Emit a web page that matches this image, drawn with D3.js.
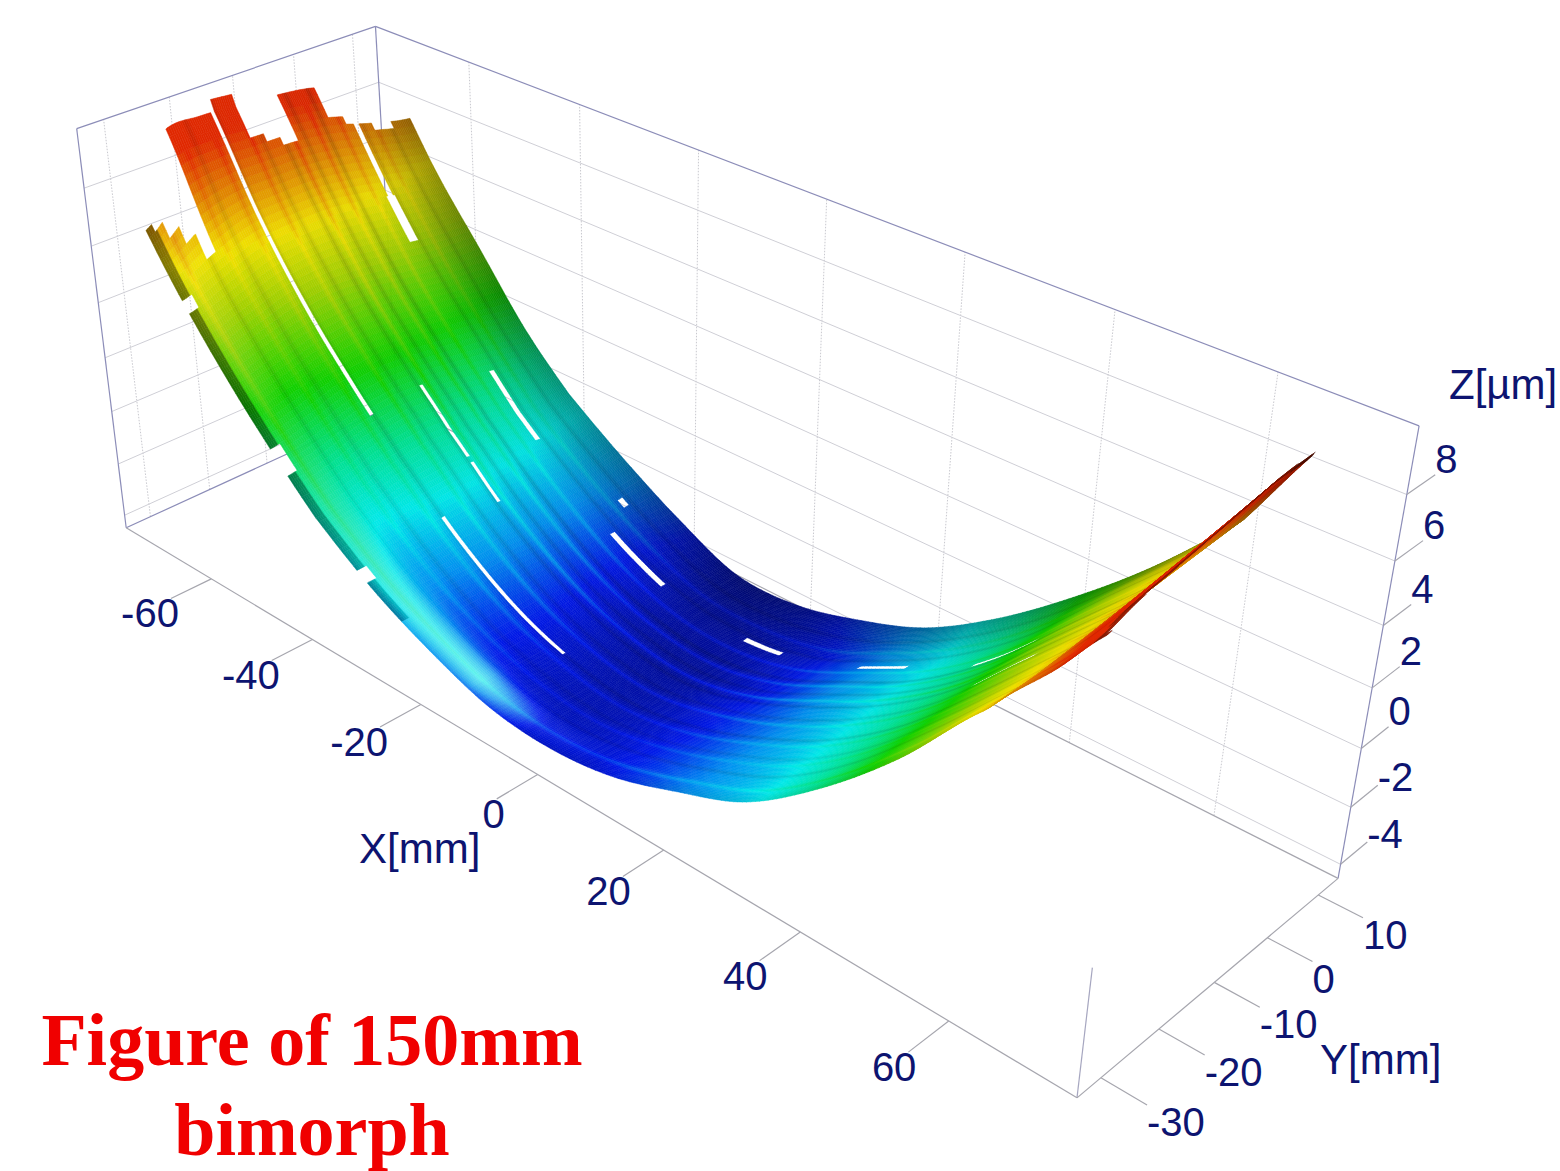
<!DOCTYPE html>
<html lang="en">
<head>
<meta charset="UTF-8">
<title>Figure of 150mm bimorph</title>
<style>
    html, body { margin: 0; background: #fff; }
    svg { display: block; }
    .tick-label, .axis-title { font-family: "Liberation Sans", Arial, sans-serif; fill: #0d1470; }
    .tick-label { font-size: 40px; }
    .axis-title { font-size: 42px; }
    .title { font-family: "Liberation Serif", "Times New Roman", serif; font-weight: bold; font-size: 74px; fill: #f00000; text-anchor: middle; }
</style>
</head>
<body>
<script src="https://d3js.org/d3.v7.min.js"></script>
<script>
const xTicks = [-60, -40, -20, 0, 20, 40, 60];
const yTicks = [-30, -20, -10, 0, 10];
const zTicks = [-4, -2, 0, 2, 4, 6, 8];
const xRange = [-78, 76];
const yRange = [-34, 14];
const zRange = [-4.5, 10];

// measured height of the mirror: one row per Y station, one value per X station
const xStations = [-76, -72, -64, -56, -48, -40, -30, -20, -10, 0, 10, 20, 30, 40, 50, 60, 67, 74];
const yStations = [-32, -26, -20, -14, -8, -2, 4, 11];
const zRow0 = [10.7, 8.2, 5.6, 3.4, 1.5, -0.2, -1.7, -2.8, -3.6, -3.8, -3.5, -2.7, -1.7, 0.1, 2.4, 5.2, 7.2, 9.2];
const zRow1 = [12.2, 9.8, 6.2, 3.8, 1.8, 0, -1.7, -2.9, -3.7, -3.9, -3.5, -2.7, -1.6, 0.2, 2.6, 5.2, 7.5, 9.6];
const zRow2 = [12.4, 9.9, 6.7, 4.2, 2.2, 0.4, -1.5, -2.9, -3.7, -4, -3.6, -2.7, -1.5, 0.3, 2.7, 5.3, 7.7, 9.8];
const zRow3 = [12.4, 9.8, 6.8, 4.4, 2.4, 0.6, -1.4, -2.9, -3.8, -4.1, -3.6, -2.7, -1.4, 0.4, 2.9, 5.4, 7.9, 10];
const zRow4 = [12.2, 9.7, 6.8, 4.3, 2.3, 0.5, -1.5, -3, -3.9, -4.2, -3.7, -2.6, -1.3, 0.5, 3, 5.5, 8.1, 10.2];
const zRow5 = [12, 9.5, 6.6, 4.1, 2.1, 0.3, -1.6, -3.1, -4, -4.2, -3.7, -2.6, -1.3, 0.6, 3.1, 5.6, 8.3, 10.5];
const zRow6 = [11, 9, 6.3, 3.9, 1.9, 0, -1.7, -3.1, -4, -4.1, -3.7, -2.6, -1.2, 0.7, 3.2, 5.7, 8.5, 10.8];
const zRow7 = [10.5, 8.6, 6, 3.8, 1.6, -0.1, -1.6, -2.9, -3.9, -3.9, -3.3, -2.4, -0.9, 1, 3.2, 5.8, 8.6, 11];
const zRows = [zRow0, zRow1, zRow2, zRow3, zRow4, zRow5, zRow6, zRow7];

// where the measurement starts at the far end and stops at the near end
const edgeBandY = [-32, -31, -30, -28.5, -27, -25.5, -24, -17.9, -14.5, -12.5, -10.5, -8, -2, 0.5, 3, 4.5, 6, 8, 11];
const edgeStartX = [-69, -68, -67, -65.5, -64, -72, -72, -72.5, -69.5, -68.5, -68, -71.5, -69.5, -69, -68.5, -68, -68, -68.5];
const edgeEndX = [72, 71.4, 70.8, 70.1, 69.5, 68.9, 68, 67];

// holes in the measurement: x from, x to, y from, y to
const holeX0 = [-72, -63, -44.5, -23, -0.5, 18.5, 37, -45.5, -44.5, -36.5, 44, -74, -33, -63, -48, -33, -26];
const holeX1 = [-63, -58.5, -36.5, -14.5, 5.5, 25.5, 45, -45, -37, -31.5, 52, -45, -12, -61.5, -45, -31, -25];
const holeY0 = [1.6, 1.2, 1.6, 1.6, 1.6, 0.8, -2.5, -9.9, -9.9, -9.9, -12.5, -18.6, -18.1, -32, -32, -32, 6];
const holeY1 = [2.4, 2.8, 2.4, 2.4, 2.4, 1.6, -1.7, -9.1, -9.1, -9.1, -11.7, -17.9, -17.5, -30.5, -30.5, -30.5, 7];

// ridges running along X, lighter or darker than the surface around them
const ridgeY = [-29.5, -26.5, -24, -22.5, -19.5, -18, -14.5, -13, -10, -8.5, -6.8, -4.5, -3.2, -0.5, 3, 5, 7.5];
const ridgeGain = [0.12, -0.1, 0.08, -0.08, 0.1, -0.12, 0.12, -0.1, -0.12, 0.16, -0.12, 0.14, -0.14, 0.12, -0.1, 0.1, -0.08];

const shadeY = [-32, -30, -24, 0, 4, 7, 11];
const shadeValue = [-0.08, 0, 0, -0.04, -0.12, -0.22, -0.36];
const glareX = [-64, -46, -26, -14, -4, 6];
const glareValue = [0.06, 0.1, 0.42, 0.55, 0.1, 0];

const colorZ = [-4.2, -3.4, -2.3, -1, 0.3, 2, 4, 5.5, 7, 8.4];
const colorHex = ["#000ea0", "#0018e8", "#0090f0", "#00e8e8", "#00e090", "#10d000", "#a0d000", "#f0e000", "#e08000", "#e02800"];
const colorTilt = 0.012;

// camera fit: data position -> picture position, box corners repeated so they count more than ticks
const cornerFit = [
    [76, -34, -4.5, 1077, 1097], [-78, -34, -4.5, 126, 527], [76, 14, -4.5, 1338, 877],
    [76, 14, 10, 1418, 427], [-78, -34, 10, 77, 128], [-78, 14, 10, 375, 27]
];
const tickFit = [
    [-40, -34, -4.5, 315, 642], [-20, -34, -4.5, 422, 706], [0, -34, -4.5, 538, 777],
    [20, -34, -4.5, 663, 852], [40, -34, -4.5, 800, 933], [60, -34, -4.5, 948, 1022],
    [76, 10, -4.5, 1318, 896], [76, 0, -4.5, 1267, 938], [76, -10, -4.5, 1213, 983],
    [76, -20, -4.5, 1157, 1031], [76, -30, -4.5, 1099, 1080],
    [76, 14, 8, 1410, 488], [76, 14, 6, 1398, 557], [76, 14, 4, 1386, 625], [76, 14, 2, 1374, 690], [76, 14, 0, 1363, 752]
];
const camera = d3.merge([cornerFit, cornerFit, cornerFit, cornerFit, cornerFit, cornerFit, tickFit]);

function fitCamera(rows) {
    const A = [], b = [];
    rows.forEach(r => {
        const X = r[0] / 100, Y = r[1] / 100, Z = r[2] / 10, u = r[3] / 1000, v = r[4] / 1000;
        A.push([X, Y, Z, 1, 0, 0, 0, 0, -u * X, -u * Y, -u * Z]); b.push(u);
        A.push([0, 0, 0, 0, X, Y, Z, 1, -v * X, -v * Y, -v * Z]); b.push(v);
    });
    const n = 11;
    const M = d3.range(n).map(i => d3.range(n + 1).map(j =>
        j < n ? d3.sum(A, row => row[i] * row[j]) : d3.sum(A, (row, k) => row[i] * b[k])));
    for (let i = 0; i < n; i++) {
        let best = i;
        for (let k = i + 1; k < n; k++) if (Math.abs(M[k][i]) > Math.abs(M[best][i])) best = k;
        [M[i], M[best]] = [M[best], M[i]];
        for (let k = 0; k < n; k++) {
            if (k === i) continue;
            const f = M[k][i] / M[i][i];
            for (let j = i; j <= n; j++) M[k][j] -= f * M[i][j];
        }
    }
    return M.map((row, i) => row[n] / row[i]);
}
const p = fitCamera(camera);

function project(x, y, z) {
    const X = x / 100, Y = y / 100, Z = z / 10;
    const w = p[8] * X + p[9] * Y + p[10] * Z + 1;
    return [1000 * (p[0] * X + p[1] * Y + p[2] * Z + p[3]) / w, 1000 * (p[4] * X + p[5] * Y + p[6] * Z + p[7]) / w, w];
}

const svg = d3.select("body").append("svg").attr("width", 1560).attr("height", 1171);
const [x0, x1] = xRange, [y0, y1] = yRange, [z0, z1] = zRange;

function line3(g, a, b, stroke, width, dash) {
    const pa = project(...a), pb = project(...b);
    g.append("line").attr("x1", pa[0]).attr("y1", pa[1]).attr("x2", pb[0]).attr("y2", pb[1])
        .attr("stroke", stroke).attr("stroke-width", width).attr("stroke-dasharray", dash || null);
}

// walls
const walls = svg.append("g");
xTicks.forEach(x => line3(walls, [x, y1, z0], [x, y1, z1], "#c9c9cf", 1, "1.5 1.5"));
yTicks.forEach(y => line3(walls, [x0, y, z0], [x0, y, z1], "#c9c9cf", 1, "1.5 1.5"));
zTicks.forEach(z => {
    line3(walls, [x0, y1, z], [x1, y1, z], "#cfcfd6", 1);
    line3(walls, [x0, y0, z], [x0, y1, z], "#cfcfd6", 1);
});
line3(walls, [x0, y0, z1], [x0, y1, z1], "#8c8db8", 1.2);
line3(walls, [x0, y1, z1], [x1, y1, z1], "#8c8db8", 1.2);
line3(walls, [x0, y0, z0], [x0, y0, z1], "#8c8db8", 1.2);
line3(walls, [x0, y1, z0], [x0, y1, z1], "#8c8db8", 1.2);
line3(walls, [x1, y1, z0], [x1, y1, z1], "#8c8db8", 1.2);
line3(walls, [x0, y0, z0], [x0, y1, z0], "#8c8db8", 1.2);
line3(walls, [x0, y1, z0], [x1, y1, z0], "#a6a6ae", 1.2);
line3(walls, [x1, y0, z0], [x1, y0, -0.2], "#a6a6c0", 1.2);

// axes
const axes = svg.append("g");
line3(axes, [x0, y0, z0], [x1, y0, z0], "#a6a6ae", 1.2);
line3(axes, [x1, y0, z0], [x1, y1, z0], "#a6a6ae", 1.2);
function tickLabel(pos, text, anchor, dx, dy) {
    axes.append("text").attr("class", "tick-label").attr("x", pos[0] + dx).attr("y", pos[1] + dy)
        .attr("text-anchor", anchor).text(text);
}
xTicks.forEach(x => {
    line3(axes, [x, y0, z0], [x, y0 - 6.5, z0], "#a6a6ae", 1.2);
    tickLabel(project(x, y0 - 6.5, z0), x, "end", 8, 29);
});
yTicks.forEach(y => {
    line3(axes, [x1, y, z0], [x1 + 5.5, y, z0], "#a6a6ae", 1.2);
    tickLabel(project(x1 + 5.5, y, z0), y, "start", 0, 31);
});
zTicks.forEach(z => {
    line3(axes, [x1, y1, z], [x1, y1 + 5.5, z], "#a6a6ae", 1.2);
    tickLabel(project(x1, y1 + 5.5, z), z, "start", 0, z < 0 ? 6 : -2);
});
axes.append("text").attr("class", "axis-title").attr("x", 359).attr("y", 863).text("X[mm]");
axes.append("text").attr("class", "axis-title").attr("x", 1320).attr("y", 1074).text("Y[mm]");
axes.append("text").attr("class", "axis-title").attr("x", 1449).attr("y", 399).text("Z[µm]");

// surface
const rainbow = d3.scaleLinear().domain(colorZ).range(colorHex).interpolate(d3.interpolateRgb).clamp(true);
const shadeAt = d3.scaleLinear().domain(shadeY).range(shadeValue).clamp(true);
const glareAt = d3.scaleLinear().domain(glareX).range(glareValue).clamp(true);
const endAt = d3.scaleLinear().domain(yStations).range(edgeEndX).clamp(true);

function catmull(a, b, c, d, t) {
    return 0.5 * (2 * b + (c - a) * t + (2 * a - 5 * b + 4 * c - d) * t * t + (3 * b - a - 3 * c + d) * t * t * t);
}
function along(stations, values, s) {
    let i = d3.bisectRight(stations, s) - 1;
    i = Math.max(0, Math.min(stations.length - 2, i));
    const t = (s - stations[i]) / (stations[i + 1] - stations[i]);
    const v = k => values[Math.max(0, Math.min(values.length - 1, k))];
    return catmull(v(i - 1), v(i), v(i + 1), v(i + 2), t);
}
function heightAt(x, y) {
    return along(yStations, zRows.map(row => along(xStations, row, x)), y);
}

function isMeasured(x, y) {
    const band = d3.bisectRight(edgeBandY, y) - 1;
    if (x < edgeStartX[Math.min(band, edgeStartX.length - 1)]) return false;
    if (x > endAt(y)) return false;
    for (let i = 0; i < holeX0.length; i++)
        if (x >= holeX0[i] && x <= holeX1[i] && y >= holeY0[i] && y <= holeY1[i]) return false;
    return true;
}

function colorAt(x, y, z) {
    let dark = -shadeAt(y), lift = 0;
    ridgeY.forEach((r, i) => {
        const g = ridgeGain[i] * Math.exp(-Math.pow((y - r) / 0.38, 2));
        if (g < 0) dark -= g; else lift += g;
    });
    const glare = glareAt(x) * Math.exp(-Math.pow((y + 29.5) / 2.6, 2));
    if (y < -30.8 && x < -25) dark += 0.42;
    if (x > endAt(y) - 1) dark += 0.35;
    const c = rainbow(z + colorTilt * x + lift * 4 + glare * 4);
    return glare > dark
        ? d3.interpolateRgb(c, "#fff")((glare - dark) * 0.7)
        : d3.interpolateRgb(c, "#000")(dark - glare);
}

const cells = [];
const stepX = 0.6, stepY = 0.3;
for (let i = 0; i < 250; i++) {
    const x = -76 + i * stepX;
    for (let j = 0; j < 144; j++) {
        const y = -32 + j * stepY;
        const cx = x + stepX / 2, cy = y + stepY / 2;
        if (!isMeasured(cx, cy)) continue;
        const a = project(x, y, heightAt(x, y));
        const b = project(x + stepX, y, heightAt(x + stepX, y));
        const c = project(x + stepX, y + stepY, heightAt(x + stepX, y + stepY));
        const d = project(x, y + stepY, heightAt(x, y + stepY));
        cells.push({ pts: [a, b, c, d], w: (a[2] + c[2]) / 2, color: colorAt(cx, cy, heightAt(cx, cy)) });
    }
}
cells.sort((m, n) => d3.descending(m.w, n.w));
svg.append("g").selectAll("path").data(cells).join("path")
    .attr("d", d => "M" + d.pts.map(q => q[0].toFixed(1) + "," + q[1].toFixed(1)).join("L") + "Z")
    .attr("fill", d => d.color)
    .attr("stroke", d => d.color)
    .attr("stroke-width", 0.5);

// title
svg.append("text").attr("class", "title").attr("x", 312).attr("y", 1065).text("Figure of 150mm");
svg.append("text").attr("class", "title").attr("x", 312).attr("y", 1155).text("bimorph");
</script>
</body>
</html>
